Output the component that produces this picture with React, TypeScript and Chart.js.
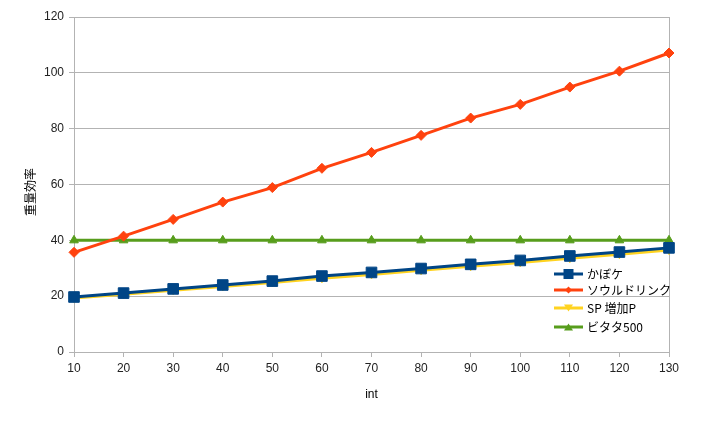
import React, { useEffect, useRef } from 'react';
import { Chart, registerables } from 'chart.js';

Chart.register(...registerables);

const categories = ['10', '20', '30', '40', '50', '60', '70', '80', '90', '100', '110', '120', '130'];
const seriesNames = ['かぼケ', 'ソウルドリンク', 'SP 増加P', 'ビタタ500'];
const kabokeValues = [19.7, 21.1, 22.6, 24.0, 25.4, 27.2, 28.5, 29.9, 31.4, 32.8, 34.4, 35.8, 37.3];
const soulDrinkValues = [35.7, 41.5, 47.5, 53.7, 58.9, 65.8, 71.5, 77.6, 83.8, 88.7, 94.9, 100.6, 107.1];
const spValues = [19.3, 20.7, 22.1, 23.5, 24.9, 26.4, 27.8, 29.3, 30.7, 32.1, 33.6, 35.0, 36.5];
const vitaValues = [40, 40, 40, 40, 40, 40, 40, 40, 40, 40, 40, 40, 40];
const yMin = 0;
const yMax = 120;
const yStep = 20;
const xTitle = 'int';
const yTitle = '重量効率';

const colors = ['#004586', '#ff420e', '#ffd320', '#579d1c'];
const GRID = '#b3b3b3';

function drawMarker(ctx: CanvasRenderingContext2D, kind: string, x: number, y: number, r: number, color: string) {
  ctx.save();
  ctx.fillStyle = color;
  ctx.beginPath();
  if (kind === 'rect') {
    ctx.rect(x - r, y - r, 2 * r, 2 * r);
  } else if (kind === 'diamond') {
    ctx.moveTo(x, y - r);
    ctx.lineTo(x + r, y);
    ctx.lineTo(x, y + r);
    ctx.lineTo(x - r, y);
    ctx.closePath();
  } else if (kind === 'tridown') {
    ctx.moveTo(x - r, y - r * 0.8);
    ctx.lineTo(x + r, y - r * 0.8);
    ctx.lineTo(x, y + r * 0.8);
    ctx.closePath();
  } else {
    ctx.moveTo(x - r, y + r * 0.8);
    ctx.lineTo(x + r, y + r * 0.8);
    ctx.lineTo(x, y - r * 0.8);
    ctx.closePath();
  }
  ctx.fill();
  ctx.restore();
}

const overlayPlugin = {
  id: 'overlay',
  afterDraw(chart: any) {
    const ctx: CanvasRenderingContext2D = chart.ctx;
    const area = chart.chartArea;
    ctx.save();
    ctx.fillStyle = '#000';
    ctx.font = '12px "Liberation Sans", "Noto Sans CJK JP", sans-serif';
    ctx.textAlign = 'center';
    ctx.textBaseline = 'middle';
    ctx.fillText(xTitle, (area.left + area.right) / 2, 395);
    ctx.save();
    ctx.translate(30, 192);
    ctx.rotate(-Math.PI / 2);
    ctx.font = '12px "Noto Sans CJK JP", sans-serif';
    ctx.fillText(yTitle, 0, 0);
    ctx.restore();

    // legend
    const kinds = ['rect', 'diamond', 'tridown', 'triup'];
    const sizes = [5, 3.5, 4.5, 4.5];
    const ys = [274, 290, 308, 327];
    ctx.font = '12px "Noto Sans CJK JP", sans-serif';
    ctx.textAlign = 'left';
    for (let i = 0; i < seriesNames.length; i++) {
      const y = ys[i];
      ctx.strokeStyle = colors[i];
      ctx.lineWidth = 3;
      ctx.beginPath();
      ctx.moveTo(554, y);
      ctx.lineTo(583, y);
      ctx.stroke();
      drawMarker(ctx, kinds[i], 568.5, y, sizes[i], colors[i]);
      ctx.fillStyle = '#000';
      ctx.fillText(seriesNames[i], 587, y);
    }
    ctx.restore();
  },
};

export default function App() {
  const ref = useRef<HTMLCanvasElement | null>(null);
  useEffect(() => {
    document.body.style.margin = '0';
    if (!ref.current) return;
    const last = categories.length - 1;
    const chart = new Chart(ref.current, {
      type: 'line',
      data: {
        labels: categories,
        datasets: [
          {
            label: seriesNames[0],
            data: kabokeValues,
            borderColor: colors[0],
            backgroundColor: colors[0],
            borderWidth: 3,
            pointStyle: 'rect',
            pointRadius: 7.5,
            pointBorderWidth: 1,
            pointBackgroundColor: colors[0],
            pointBorderColor: colors[0],
          },
          {
            label: seriesNames[1],
            data: soulDrinkValues,
            borderColor: colors[1],
            backgroundColor: colors[1],
            borderWidth: 3,
            pointStyle: 'rectRot',
            pointRadius: 5,
            pointBorderWidth: 1,
            pointBackgroundColor: colors[1],
            pointBorderColor: colors[1],
          },
          {
            label: seriesNames[2],
            data: spValues,
            borderColor: colors[2],
            backgroundColor: colors[2],
            borderWidth: 3,
            pointStyle: 'triangle',
            pointRotation: 180,
            pointRadius: 4.5,
            pointBorderWidth: 1,
            pointBackgroundColor: colors[2],
            pointBorderColor: colors[2],
          },
          {
            label: seriesNames[3],
            data: vitaValues,
            borderColor: colors[3],
            backgroundColor: colors[3],
            borderWidth: 3,
            pointStyle: 'triangle',
            pointRadius: 5,
            pointBorderWidth: 1,
            pointBackgroundColor: colors[3],
            pointBorderColor: colors[3],
          },
        ],
      },
      options: {
        responsive: false,
        animation: false,
        devicePixelRatio: 1,
        layout: { padding: { top: 17, right: 32, left: 0, bottom: 0 } },
        plugins: {
          legend: { display: false },
          tooltip: { enabled: false },
        },
        scales: {
          x: {
            type: 'category',
            offset: false,
            grid: {
              color: (c: any) => (c.index === 0 || c.index === last ? GRID : 'rgba(0,0,0,0)'),
              tickColor: GRID,
              tickLength: 5,
              lineWidth: 1,
            },
            border: { color: GRID },
            ticks: {
              color: '#222',
              padding: 4,
              maxRotation: 0,
              autoSkip: false,
              font: { family: '"Liberation Sans", sans-serif', size: 12 },
            },
            afterFit: (s: any) => {
              s.height = 69;
            },
          },
          y: {
            min: yMin,
            max: yMax,
            grid: { color: GRID, tickLength: 5, lineWidth: 1 },
            border: { color: GRID },
            ticks: {
              stepSize: yStep,
              color: '#222',
              padding: 5,
              font: { family: '"Liberation Sans", sans-serif', size: 12 },
            },
            afterFit: (s: any) => {
              s.width = 74;
            },
          },
        },
      },
      plugins: [overlayPlugin],
    } as any);
    return () => chart.destroy();
  }, []);
  return (
    <div style={{ width: 701, height: 421 }}>
      <canvas ref={ref} width={701} height={421} style={{ width: 701, height: 421 }} />
    </div>
  );
}
